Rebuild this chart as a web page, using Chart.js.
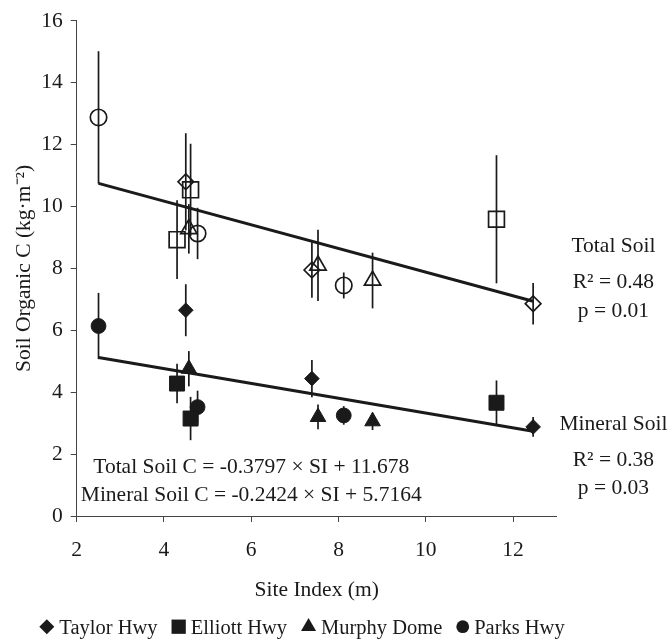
<!DOCTYPE html>
<html><head><meta charset="utf-8">
<script src="https://cdn.jsdelivr.net/npm/chart.js@4.4.1/dist/chart.umd.min.js"></script>
<style>html,body{margin:0;padding:0;background:#fff}#wrap{width:670px;height:640px;position:relative}</style>
</head><body><div id="wrap"><canvas id="c"></canvas></div>
<script>
// ---- data ----
const siteNames = ['Taylor Hwy', 'Elliott Hwy', 'Murphy Dome', 'Parks Hwy'];

const taylorSI = [4.50, 7.39, 12.46];
const taylorTotal = [10.80, 7.95, 6.86];
const taylorTotalErr = [1.57, 0.90, 0.67];
const taylorMineral = [6.65, 4.44, 2.88];
const taylorMineralErr = [0.84, 0.60, 0.32];

const elliottSI = [4.30, 4.61, 11.62];
const elliottTotal = [8.93, 10.54, 9.59];
const elliottTotalErr = [1.27, 1.49, 2.07];
const elliottMineral = [4.28, 3.15, 3.66];
const elliottMineralErr = [0.64, 0.70, 0.72];

const murphySI = [4.57, 7.53, 8.78];
const murphyTotal = [9.28, 8.10, 7.61];
const murphyTotalErr = [0.80, 1.15, 0.90];
const murphyMineral = [4.76, 3.20, 3.06];
const murphyMineralErr = [0.57, 0.40, 0.28];

const parksSI = [2.50, 4.77, 8.12];
const parksTotal = [12.88, 9.13, 7.45];
const parksTotalErr = [2.14, 0.83, 0.42];
const parksMineral = [6.14, 3.52, 3.25];
const parksMineralErr = [1.07, 0.53, 0.30];

const fitSI = [2.50, 12.46];
const totalFit = [10.75, 6.94];
const mineralFit = [5.12, 2.74];

const totalEquation = 'Total Soil C = -0.3797 \u00D7 SI + 11.678';
const mineralEquation = 'Mineral Soil C = -0.2424 \u00D7 SI + 5.7164';
const totalStats = ['Total Soil', 'R\u00B2 = 0.48', 'p = 0.01'];
const mineralStats = ['Mineral Soil', 'R\u00B2 = 0.38', 'p = 0.03'];
const xTitle = 'Site Index (m)';
const yTitle = 'Soil Organic C (kg\u00B7m\u207B\u00B2)';

// ---- styling ----
const INK = '#1a1a1a';
const FONT = "'Liberation Serif', 'Times New Roman', serif";
const styles = [
  {pointStyle: 'rectRot', openR: 7.8, fillR: 7.3},
  {pointStyle: 'rect', openR: 11.2, fillR: 10.6},
  {pointStyle: 'triangle', openR: 9.4, fillR: 9.0},
  {pointStyle: 'circle', openR: 8.2, fillR: 7.4}
];
const siteX = [taylorSI, elliottSI, murphySI, parksSI];
const siteTotal = [taylorTotal, elliottTotal, murphyTotal, parksTotal];
const siteTotalErr = [taylorTotalErr, elliottTotalErr, murphyTotalErr, parksTotalErr];
const siteMin = [taylorMineral, elliottMineral, murphyMineral, parksMineral];
const siteMinErr = [taylorMineralErr, elliottMineralErr, murphyMineralErr, parksMineralErr];

const pts = (xs, ys) => xs.map((x, i) => ({x: x, y: ys[i]}));

const datasets = [];
datasets.push({label: 'Total fit', data: pts(fitSI, totalFit), showLine: true, borderColor: INK,
  borderWidth: 3, pointRadius: 0, fill: false, order: 10});
datasets.push({label: 'Mineral fit', data: pts(fitSI, mineralFit), showLine: true, borderColor: INK,
  borderWidth: 3, pointRadius: 0, fill: false, order: 10});
for (let s = 0; s < 4; s++) {
  datasets.push({label: siteNames[s] + ' total', data: pts(siteX[s], siteTotal[s]), errors: siteTotalErr[s],
    pointStyle: styles[s].pointStyle, pointRadius: styles[s].openR, pointBorderWidth: 1.7,
    pointBorderColor: INK, pointBackgroundColor: 'rgba(0,0,0,0)', showLine: false, order: 1});
  datasets.push({label: siteNames[s] + ' mineral', data: pts(siteX[s], siteMin[s]), errors: siteMinErr[s],
    pointStyle: styles[s].pointStyle, pointRadius: styles[s].fillR, pointBorderWidth: 1,
    pointBorderColor: INK, pointBackgroundColor: INK, showLine: false, order: 1});
}

const errorBars = {
  id: 'errorBars',
  beforeDatasetsDraw(chart) {
    const ctx = chart.ctx, xs = chart.scales.x, ys = chart.scales.y;
    ctx.save();
    ctx.strokeStyle = INK; ctx.lineWidth = 1.7;
    chart.data.datasets.forEach(ds => {
      if (!ds.errors) return;
      ds.data.forEach((p, i) => {
        const e = ds.errors[i];
        const px = xs.getPixelForValue(p.x);
        ctx.beginPath();
        ctx.moveTo(px, ys.getPixelForValue(p.y + e));
        ctx.lineTo(px, ys.getPixelForValue(p.y - e));
        ctx.stroke();
      });
    });
    ctx.restore();
  }
};

const annotations = {
  id: 'annotations',
  afterDraw(chart) {
    const ctx = chart.ctx, xs = chart.scales.x, ys = chart.scales.y;
    ctx.save();
    ctx.fillStyle = INK;
    ctx.font = '21.5px ' + FONT;
    ctx.textAlign = 'center';
    ctx.textBaseline = 'alphabetic';
    ctx.fillText(totalEquation, xs.getPixelForValue(6.0), ys.getPixelForValue(1.40));
    ctx.fillText(mineralEquation, xs.getPixelForValue(6.0), ys.getPixelForValue(0.49));
    const rx = xs.getPixelForValue(14.3);
    const tY = [8.53, 7.36, 6.43];
    const mY = [2.77, 1.63, 0.70];
    totalStats.forEach((t, i) => ctx.fillText(t, rx, ys.getPixelForValue(tY[i])));
    mineralStats.forEach((t, i) => ctx.fillText(t, rx, ys.getPixelForValue(mY[i])));
    ctx.restore();
  }
};

const customLegend = {
  id: 'customLegend',
  afterDraw(chart) {
    const ctx = chart.ctx;
    const legendStyles = [
      {pointStyle: 'rectRot', radius: 7.5, w: 15},
      {pointStyle: 'rect', radius: 10.1, w: 14.3},
      {pointStyle: 'triangle', radius: 8.7, w: 15},
      {pointStyle: 'circle', radius: 6.4, w: 12.8}
    ];
    ctx.save();
    ctx.font = '20.5px ' + FONT;
    const gapIn = 5, gapOut = 14;
    const widths = siteNames.map((n, i) => legendStyles[i].w + gapIn + ctx.measureText(n).width);
    const total = widths.reduce((a, b) => a + b, 0) + gapOut * (siteNames.length - 1);
    let x = 302 - total / 2;
    const my = 626.7, ty = 633.5;
    ctx.fillStyle = INK; ctx.strokeStyle = INK;
    siteNames.forEach((n, i) => {
      const st = legendStyles[i];
      Chart.helpers.drawPoint(ctx, {pointStyle: st.pointStyle, radius: st.radius, rotation: 0, borderWidth: 0},
        x + st.w / 2, my);
      ctx.textAlign = 'left'; ctx.textBaseline = 'alphabetic';
      ctx.fillText(n, x + st.w + gapIn, ty);
      x += widths[i] + gapOut;
    });
    ctx.restore();
  }
};

new Chart(document.getElementById('c'), {
  type: 'scatter',
  data: {datasets: datasets},
  options: {
    responsive: true, maintainAspectRatio: false, animation: false, events: [],
    layout: {padding: {left: 7.6, right: 113.3, top: 16, bottom: 32.7}},
    plugins: {legend: {display: false}, tooltip: {enabled: false}},
    scales: {
      x: {
        type: 'linear', min: 2, max: 13,
        afterFit: s => { s.height = 91.3; },
        ticks: {stepSize: 2, includeBounds: false, padding: 15.5, color: INK, font: {family: FONT, size: 21.5}},
        grid: {drawOnChartArea: false, drawTicks: true, tickLength: 6, color: '#444', lineWidth: 1},
        border: {display: true, color: '#444', width: 1},
        title: {display: true, text: xTitle, color: INK, font: {family: FONT, size: 21.5}, padding: {top: 4, bottom: 4}}
      },
      y: {
        type: 'linear', min: 0, max: 16,
        afterFit: s => { s.width = 69.1; },
        ticks: {stepSize: 2, padding: 8, color: INK, font: {family: FONT, size: 21.5}},
        grid: {drawOnChartArea: false, drawTicks: true, tickLength: 6, color: '#444', lineWidth: 1},
        border: {display: true, color: '#444', width: 1},
        title: {display: true, text: yTitle, color: INK, font: {family: FONT, size: 21.5}, padding: {top: 4, bottom: 4}}
      }
    }
  },
  plugins: [errorBars, annotations, customLegend]
});
</script>
</body></html>
